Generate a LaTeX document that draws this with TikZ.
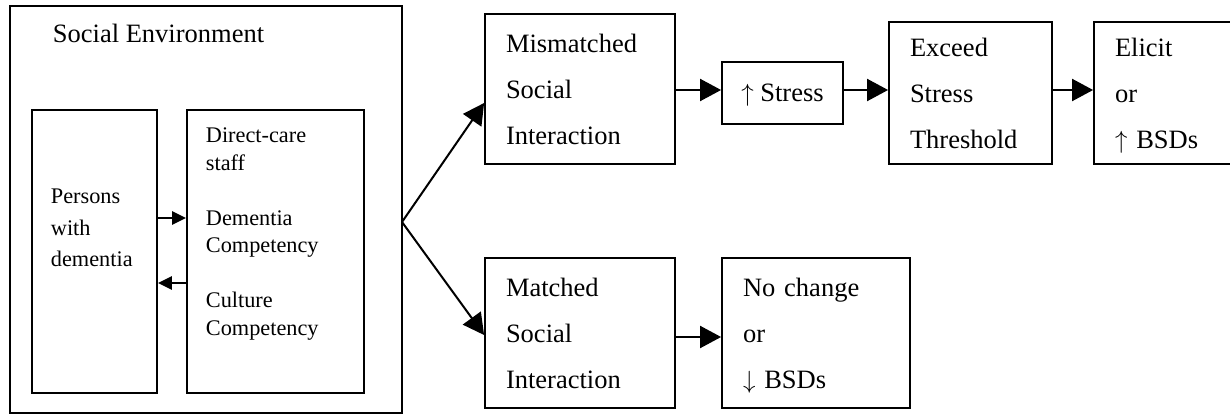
\documentclass[tikz,border=0pt]{standalone}
\usepackage{fontspec}
\setmainfont{Liberation Serif}
\usepackage{tikz}
\usetikzlibrary{arrows.meta}
\newcommand{\uparr}{\raisebox{0pt}[\height][0pt]{$\uparrow$}}
\newcommand{\downarr}{\raisebox{0pt}[\height][0pt]{$\downarrow$}}

\begin{document}
\begin{tikzpicture}[x=1pt, y=-1pt, line width=1.8pt,
    box/.style={draw, inner sep=0pt},
    stage/.style={draw, align=left, inner xsep=21pt, inner ysep=0pt,
        font=\fontsize{26.5}{46}\selectfont},
    small/.style={align=left, inner sep=0pt, anchor=north west},
    bigarrow/.style={-{Triangle[length=21pt,width=22pt]}, line width=2pt},
    smallarrow/.style={-{Triangle[length=14pt,width=13pt]}, line width=2.4pt}]
    \useasboundingbox (0,0) rectangle (1230,415);

    % social environment and its two parts
    \node[box, minimum width=392pt, minimum height=407pt] (env) at (206,209.5) {};
    \node[anchor=west, inner sep=0pt, font=\fontsize{26.5}{32}\selectfont] (envtitle) at (52,33) {Social Environment};
    \node[box, minimum width=125pt, minimum height=283pt] (pwd) at (94.5,251.5) {};
    \node[box, minimum width=177pt, minimum height=283pt] (staff) at (275.5,251.5) {};
    \node[small, font=\fontsize{22.3}{31.5}\selectfont] (pwdtext) at (50,188) {Persons\\with\\dementia};
    \node[small, font=\fontsize{22.3}{27.5}\selectfont] (stafftext) at (205,127)
        {Direct-care\\staff\\[27.5pt]Dementia\\Competency\\[27.5pt]Culture\\Competency};
    \draw[smallarrow] ([yshift=33.5pt]pwd.east) -- ([yshift=33.5pt]staff.west);
    \draw[smallarrow] ([yshift=-31.5pt]staff.west) -- ([yshift=-31.5pt]pwd.east);

    % the two kinds of interaction
    \node[stage, text width=148pt, minimum height=150pt] (mismatch) at (580,89) {Mismatched\\Social\\Interaction};
    \node[stage, text width=148pt, minimum height=150pt] (match) at (580,333) {Matched\\Social\\Interaction};
    \node[stage, inner xsep=0pt, minimum width=121pt, minimum height=62pt] (stress) at (782.5,93) {\uparr{} Stress};
    \node[stage, text width=121pt, minimum height=142pt] (exceed) at (970.5,93) {Exceed\\Stress\\Threshold};
    \node[stage, text width=104pt, minimum height=142pt] (elicit) at (1167,93) {Elicit\\or\\\uparr{} BSDs};
    \node[stage, text width=146pt, minimum height=150pt] (nochange) at (816,333) {No change\\or\\\downarr{} BSDs};

    \coordinate (fork) at (402,222);
    \draw[bigarrow] (fork) -- ([yshift=-14pt]mismatch.west);
    \draw[bigarrow] (fork) -- ([yshift=-2pt]match.west);
    \draw[bigarrow] ([yshift=-1pt]mismatch.east) -- ([yshift=-1pt]mismatch.east -| stress.west);
    \draw[bigarrow] ([yshift=3pt]stress.east) -- ([yshift=3pt]exceed.west);
    \draw[bigarrow] ([yshift=3pt]exceed.east) -- ([yshift=3pt]elicit.west);
    \draw[bigarrow] ([yshift=-4pt]match.east) -- ([yshift=-4pt]nochange.west);
\end{tikzpicture}
\end{document}
